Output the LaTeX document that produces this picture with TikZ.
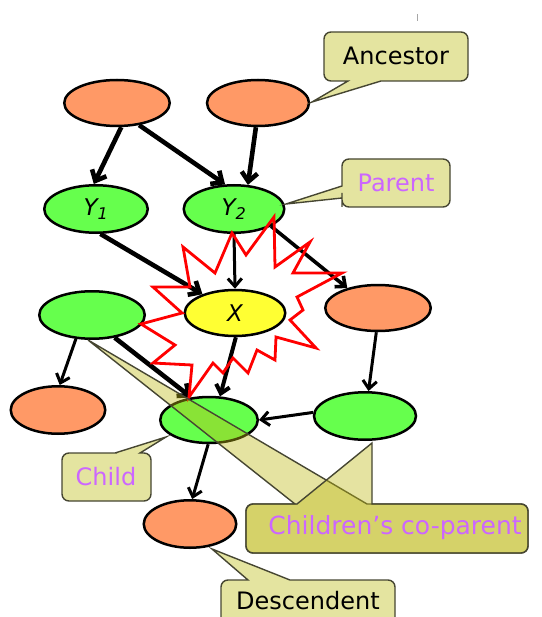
\documentclass[tikz,border=0pt]{standalone}
\usepackage{fontspec}
\setmainfont{DejaVu Sans}
\usepackage{tikz}
\usetikzlibrary{shapes.geometric,arrows.meta}
\definecolor{varOrange}{RGB}{255,153,102}
\definecolor{varGreen}{RGB}{102,255,77}
\definecolor{varYellow}{RGB}{255,255,51}
\definecolor{noteFill}{RGB}{228,228,160}
\definecolor{copFill}{RGB}{190,185,20}
\definecolor{noteLine}{RGB}{70,70,50}
\definecolor{noteViolet}{RGB}{204,102,255}

\begin{document}
\begin{tikzpicture}[x=1pt, y=-1pt,
  var/.style={ellipse, draw, line width=2.5pt, minimum width=102pt, minimum height=46pt, inner sep=0pt, font=\fontsize{23}{25}\selectfont\itshape},
  link/.style={line width=3pt, -{Straight Barb[length=8pt,width=14pt]}},
  heavy/.style={line width=4.6pt, -{Straight Barb[length=9pt,width=16pt]}},
  note/.style={draw=noteLine, line width=1.4pt, fill=noteFill},
  copnote/.style={draw=noteLine, line width=1.4pt, fill=copFill, fill opacity=0.4},
  notetext/.style={font=\fontsize{24}{28}\selectfont, inner sep=0pt},
  burst/.style={draw=red, line width=2.8pt, line join=miter}]
\useasboundingbox (0,0) rectangle (541,617);
\draw[gray!70, line width=1pt] (417,14) -- (417,21);

% variables
\node[var, fill=varOrange, minimum width=105.5pt] (anc1) at (117,103) {};
\node[var, fill=varOrange] (anc2) at (258,103) {};
\node[var, fill=varGreen, minimum width=103.5pt, minimum height=47.5pt] (y1) at (96,209) {Y\textsubscript{1}};
\node[var, fill=varGreen, minimum width=100.5pt, minimum height=47.5pt] (y2) at (234,209) {Y\textsubscript{2}};
\node[var, fill=varGreen, minimum width=105.5pt, minimum height=47.5pt] (cop1) at (92,315) {};
\node[var, fill=varYellow, minimum width=100.5pt] (x) at (235,313) {X};
\node[var, fill=varOrange, minimum width=105.5pt] (yc) at (378,308) {};
\node[var, fill=varOrange, minimum width=94.5pt, minimum height=47.5pt] (lc) at (58,410) {};
\node[var, fill=varGreen, minimum width=97.5pt] (child) at (209,420) {};
\node[var, fill=varGreen, minimum height=47.5pt] (cop2) at (365,416) {};
\node[var, fill=varOrange, minimum width=92.5pt, minimum height=47.5pt] (desc) at (190,524) {};

% arcs
\draw[heavy] (anc1.-80) -- (y1.95);
\draw[heavy] (anc1.-45) -- (y2.110);
\draw[heavy] (anc2.-95) -- (y2.60);
\draw[heavy] (y1.-80) -- (x.150);
\draw[link] (y2.-90) -- (x.90);
\draw[link, line width=3.6pt] (y2.-25) -- (yc.147);
\draw[link] (cop1.-124) -- (lc.86);
\draw[heavy] (cop1.-45) -- (child.128);
\draw[link, line width=4pt] (x.-88) -- (child.65);
\draw[link] (yc.-94) -- (cop2.82);
\draw[link] (cop2.176) -- (child.0);
\draw[link] (child.-92) -- (desc.85);

% markov blanket burst
\draw[burst] (183,247) -- (215,273) -- (232,233) -- (246,255) -- (274,217) -- (275,267)
  -- (310,242) -- (293,273) -- (342,273) -- (297,297) -- (303,310) -- (290,320)
  -- (316,348) -- (276,337) -- (275,360) -- (257,350) -- (248,373) -- (233,358)
  -- (223,373) -- (213,363) -- (189,397) -- (192,365) -- (153,363) -- (175,345)
  -- (141,324) -- (182,313) -- (153,287) -- (190,287) -- cycle;

% callouts
\draw[note] (396,32) [rounded corners=7pt] -- (468,32) -- (468,81) -- (395,81) [sharp corners] -- (381,81)
  -- (312,102) -- (348,81) -- (340,81) [rounded corners=7pt] -- (324,81) -- (324,32) -- cycle;
\node[notetext] (anctext) at (396,56) {Ancestor};

\draw[note] (396,159) [rounded corners=7pt] -- (450,159) -- (450,207) -- (342,207) -- (342,200) [sharp corners] -- (342,198)
  -- (286,204) -- (342,186) -- (342,180) [rounded corners=7pt] -- (342,159) -- cycle;
\node[notetext, text=noteViolet] (partext) at (396,183) {Parent};

\draw[note] (106,501) [rounded corners=7pt] -- (62,501) -- (62,453) -- (110,453) [sharp corners] -- (115,453)
  -- (166,437) -- (140,453) -- (143,453) [rounded corners=7pt] -- (151,453) -- (151,501) -- cycle;
\node[notetext, text=noteViolet] (chitext) at (106,477) {Child};

\draw[note] (308,629) [rounded corners=7pt] -- (221,629) -- (221,580) -- (240,580) [sharp corners] -- (248,580)
  -- (212,549) -- (290,580) -- (300,580) [rounded corners=7pt] -- (395,580) -- (395,629) -- cycle;
\node[notetext] (destext) at (308,601) {Descendent};

\draw[copnote] (387,553) [rounded corners=7pt] -- (246,553) -- (246,504) -- (285,504) [sharp corners] -- (295,504)
  -- (88,340) -- (367,504) -- (380,504) [rounded corners=7pt] -- (528,504) -- (528,553) -- cycle;
\draw[copnote] (387,553) [rounded corners=7pt] -- (246,553) -- (246,504) -- (290,504) [sharp corners] -- (297,504)
  -- (372,443) -- (372,504) -- (385,504) [rounded corners=7pt] -- (528,504) -- (528,553) -- cycle;
\node[notetext, text=noteViolet, font=\fontsize{25}{28}\selectfont] (coptext) at (395,528) {Children's co-parent};
\end{tikzpicture}
\end{document}
